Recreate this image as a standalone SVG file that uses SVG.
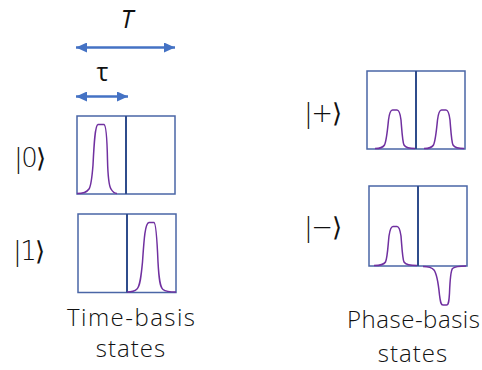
<svg xmlns="http://www.w3.org/2000/svg" width="482" height="370" viewBox="0 0 482 370">
<style>
.box{fill:none;stroke:#4A66A6;stroke-width:1.5}
.div{stroke:#2F4C8C;stroke-width:2}
.pulse{fill:none;stroke:#7030A0;stroke-width:1.5;stroke-linejoin:round}
.arr{stroke:#4472C4;stroke-width:2.5;fill:none}
.lbl{font-family:"Open Sans","DejaVu Sans",sans-serif;font-size:24px;fill:#111;font-weight:300}
.sym{font-family:"DejaVu Sans",sans-serif;font-size:26px;fill:#111;font-weight:200;letter-spacing:-1.5px}
</style>
<defs>
<marker id="ah" markerUnits="userSpaceOnUse" markerWidth="12" markerHeight="10" refX="11" refY="5" orient="auto-start-reverse">
<path d="M0,0 L11,5 L0,10 z" fill="#4472C4"/>
</marker>
</defs>
<g id="connectors">
<line class="arr" x1="76" y1="47.5" x2="175" y2="47.5" marker-start="url(#ah)" marker-end="url(#ah)"/>
<line class="arr" x1="76" y1="96.5" x2="128" y2="96.5" marker-start="url(#ah)" marker-end="url(#ah)"/>
</g>
<g id="labels-top">
<text x="127" y="28" text-anchor="middle" style="font-family:'Open Sans','DejaVu Sans',sans-serif;font-size:25px;font-style:italic;fill:#111">T</text>
<text x="102.5" y="81" text-anchor="middle" style="font-family:'Open Sans','DejaVu Sans',sans-serif;font-size:25px;fill:#111">τ</text>
</g>
<g id="state0">
<text class="sym" x="14" y="166.5">|0⟩</text>
<rect class="box" x="77" y="116" width="98" height="78"/>
<line class="div" x1="126" y1="116" x2="126" y2="194"/>
<path class="pulse" d="M77,193.5 C84,193.5 87,192 89,189 C91,186 92,178 93,165 C94,145 95,125 98,124.5 L104,124.5 C106,125 107,135 107.5,160 C108,180 109,186 111,189 C113,192.5 115,193.5 117,193.5"/>
</g>
<g id="state1">
<text class="sym" x="13" y="259.5">|1⟩</text>
<rect class="box" x="78" y="214" width="98" height="78.5"/>
<line class="div" x1="127" y1="214" x2="127" y2="292.5"/>
<path class="pulse" d="M127,292 C132,292 135,291 137,289 C140,286 141,278 142.5,262 C144,240 145,223 149,222.5 L154,222.5 C156,223 157,238 158,262 C159,280 160,287 163,289.5 C166,292 170,292 176,292"/>
</g>
<g id="statePlus">
<text class="sym" x="304" y="121.5">|+⟩</text>
<rect class="box" x="367" y="71" width="98" height="78"/>
<line class="div" x1="416" y1="71" x2="416" y2="149"/>
<path class="pulse" d="M375,148.5 C380,148.5 383,147.5 384.5,145 C386.5,141 387.5,130 388.5,120 C389.5,112 390.5,110 392.5,110 L397,110 C399,110 400,112 401,120 C402,132 402.5,142 404,145 C406,148 410,148.5 415,148.5"/>
<path class="pulse" d="M424,148.5 C429,148.5 432,147.5 433.5,145 C435.5,141 436.5,130 437.5,120 C438.5,112 439.5,110 441.5,110 L446,110 C448,110 449,112 450,120 C451,132 451.5,142 453,145 C455,148 459,148.5 464,148.5"/>
</g>
<g id="stateMinus">
<text class="sym" x="304" y="235.5">|−⟩</text>
<rect class="box" x="369" y="186" width="98" height="80"/>
<line class="div" x1="418" y1="186" x2="418" y2="266"/>
<path class="pulse" d="M374,265.5 C380,265.5 384,264.5 385.5,262 C387.5,258 388,245 389,236 C390,229 391,226.5 393,226.5 L397,226.5 C399,226.5 400,229 401,236 C402,248 402.5,259 404,262 C406,265 411,265.5 417,265.5"/>
<path class="pulse" d="M423,266.5 C428,266.5 432,267.5 434,270 C437,274 438.5,285 439.5,295 C440.5,303 441,305 443,305 L446.5,305 C448.5,305 449,302 449.5,293 C450,280 450.5,271 452.5,268.5 C455,266.5 460,266 466,266"/>
</g>
<g id="captions">
<text class="lbl" x="67" y="326" textLength="128" lengthAdjust="spacing">Time-basis</text>
<text class="lbl" x="131" y="357" text-anchor="middle" letter-spacing="1">states</text>
<text class="lbl" x="347" y="328" textLength="133" lengthAdjust="spacing">Phase-basis</text>
<text class="lbl" x="413" y="362" text-anchor="middle" letter-spacing="1">states</text>
</g>
</svg>
